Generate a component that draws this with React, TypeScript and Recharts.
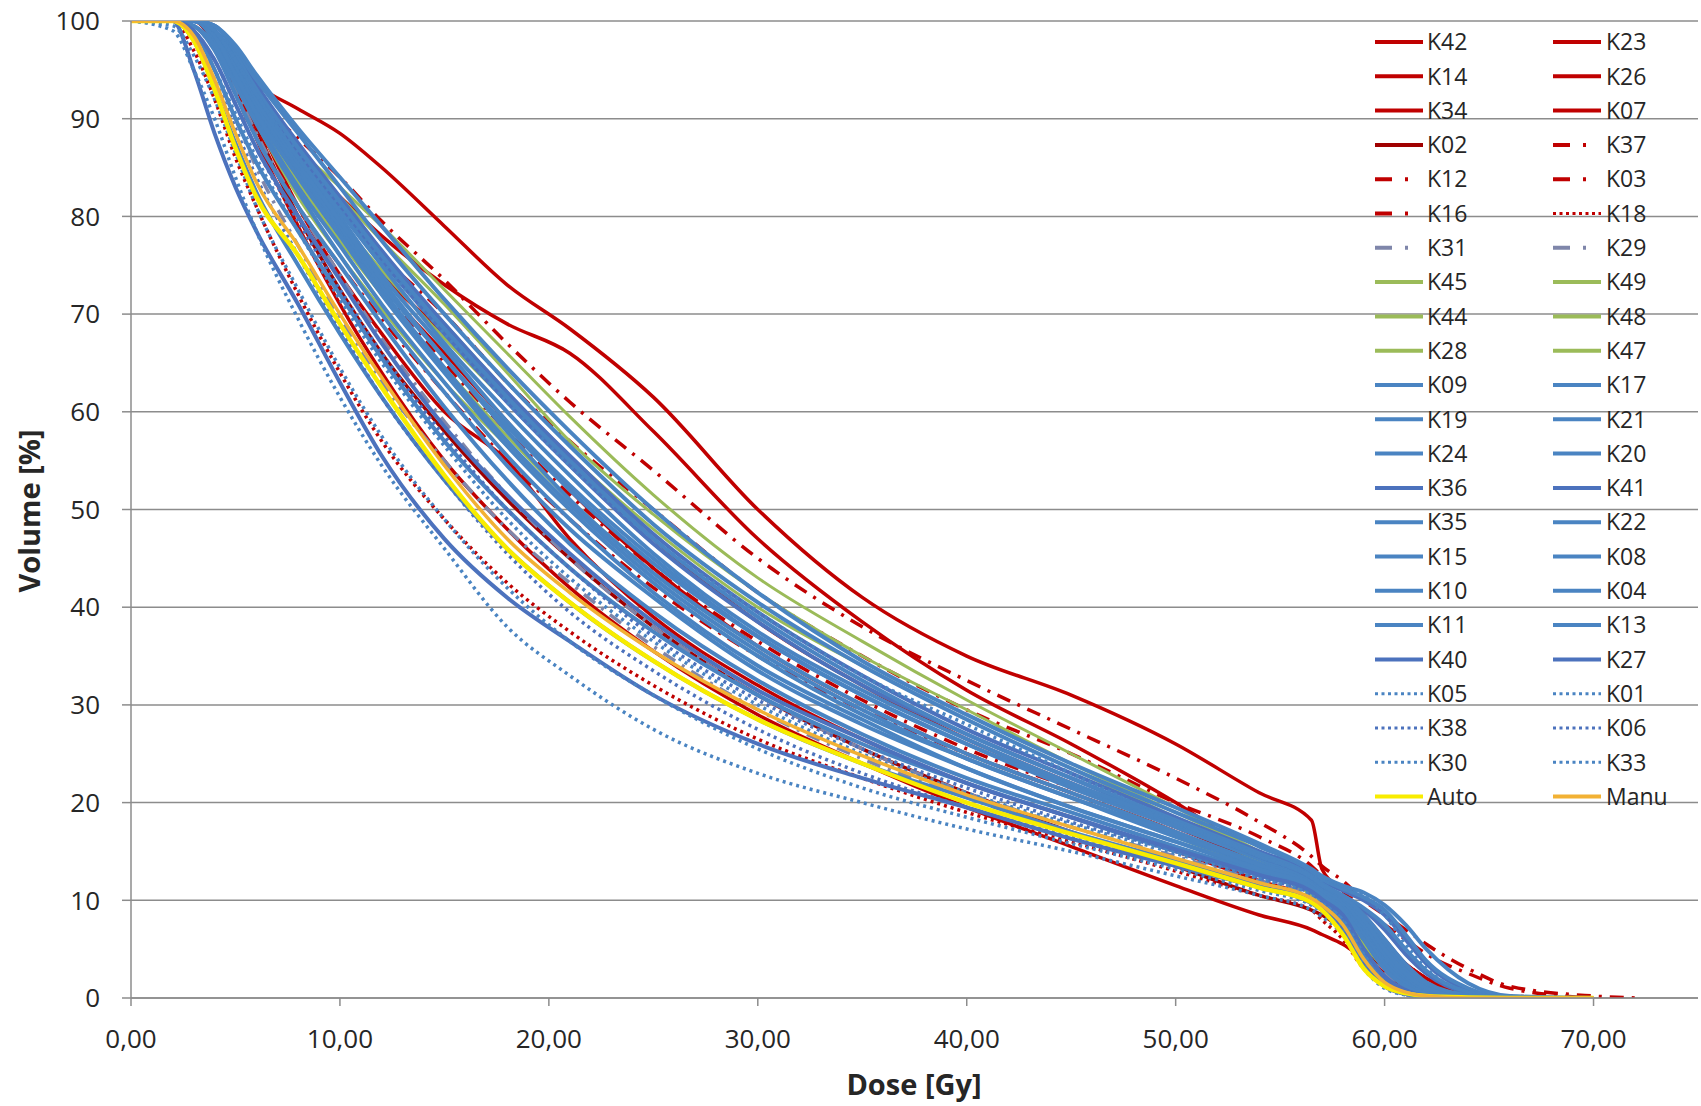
import React from 'react';
import { LineChart, Line, XAxis, YAxis, CartesianGrid } from 'recharts';

const FONT = "'Open Sans', sans-serif";

const DOSE = [0, 2, 3, 4, 5, 6, 8, 10, 12, 15, 18, 21, 25, 30, 35, 40, 45, 50, 54, 56.5, 57, 58, 59, 60, 61, 62, 64, 66, 70, 72];
const X_TICKS = [0, 10, 20, 30, 40, 50, 60, 70];
const Y_TICKS = [0, 10, 20, 30, 40, 50, 60, 70, 80, 90, 100];

type V = (number | null)[];
const K42: V = [100,100,100,99,95.5,93.5, 91,88.5,85,79,73,68.5, 61.5,50,41,35,31,26, 21,18.2,13.2,11,8.5,6, 3.5,2,0.5,0,null,null];
const K23: V = [100,100,100,99,96,93, 86,82,78,73,69,66, 58,47,38.5,31.5,26,20, 14.5,12,11,9.5,7.5,5, 3,1.5,0.3,0,null,null];
const K14: V = [100,100,100,98,94,90, 84,78.5,73,66,59,52, 44,36,30,25,21,17, 13,11,10,8,5.5,3, 1.5,0.7,0.1,0,null,null];
const K26: V = [100,100,100,98.5,95,90, 81,74,68,60,55,47, 39,32,26.5,22,18.5,15, 12,10,9,7,4.5,2.5, 1.2,0.5,0,null,null,null];
const K34: V = [100,100,100,98,93.5,88, 79,71,64,55,48,42, 35.5,29,24,19.5,15.5,11.5, 8.5,7,6.5,5.5,4,2.5, 1.3,0.6,0.1,0,null,null];
const K07: V = [100,100,100,99,96,92, 85,79,74,68,61.5,55, 47,38.5,32,26.5,22,17.5, 14,12,11,9.5,7.5,5.5, 3.5,2,0.5,0,null,null];
const K02: V = [100,100,100,98,94,89, 80,72.5,66,58,51,45, 38,31,25.5,21,17,13.5, 10.5,9,8.5,7,5,3, 1.5,0.6,0.1,0,null,null];
const K37: V = [100,100,100,98.5,95,92, 88,84,79.5,73.5,67,61, 54,45,38,32.5,27.5,22.5, 18,14.5,13.5,12,10,8.5, 7,5.5,3,1.2,0.2,0];
const K12: V = [100,100,100,98,94,90.5, 85.5,81,76,70,63,57, 50,41.5,35,29.5,25,20, 16.5,13.5,12.5,11,9,7.5, 6,4.5,2.5,1,0,null];
const K03: V = [100,100,100,98,93,89, 83,78,72.5,65,58,51.5, 44,36.5,30.5,25.5,21.5,17.5, 14,11.5,10.5,9,7,5, 3.5,2,0.5,0,null,null];
const K16: V = [100,100,100,97.5,92.5,88, 81,75,69.5,62,55,49, 42,35,29.5,25,21,17, 13.5,11,10,8.5,6.5,4.5, 3,1.8,0.6,0.2,0,null];
const K18: V = [100,100,97,92,86,81, 72,64,57,49,42.5,37.5, 32,26.5,22.5,19,16,13, 10.5,9,8,6,3,1.2, 0.4,0,null,null,null,null];
const K31: V = [100,100,99,95,90,85, 77,69.5,63,55,48,42.5, 36,29.5,24.5,20.5,17,14, 11.5,10,9.2,7.5,4.5,2, 0.8,0.3,0,null,null,null];
const K29: V = [100,100,99.5,97,93,88.5, 81,74,67.5,59,51.5,45, 38,31,25.5,21,17.5,14.5, 12,10.5,9.5,8,5,2.5, 1,0.4,0,null,null,null];
const K45: V = [100,100,100,99,96,92.5, 87,83,79,72.5,66,59.5, 51.5,43,36.5,30.5,25,19.5, 15,12.5,11.5,10,7.5,5, 3,1.5,0.3,0,null,null];
const K49: V = [100,100,100,99,95.5,92, 86,81,76,69,62,55.5, 48,40,34,28.5,23.5,18.5, 14.5,12,11,9.5,7,4.5, 2.5,1.2,0.2,0,null,null];
const K44: V = [100,100,100,98.5,94.5,91, 85,79.5,74.5,67.5,61,54.5, 46.5,38.5,32,27,22.5,18, 14,11.5,10.5,9,6.5,4, 2.2,1,0.2,0,null,null];
const K48: V = [100,100,100,98.5,94,90, 83.5,77.5,72,64.5,57.5,51, 43.5,36,30,25,21,17, 13.5,11,10,8.5,6,3.5, 1.8,0.8,0.1,0,null,null];
const K28: V = [100,100,100,98,93.5,89.5, 82,76,70.5,63,56.5,50, 42.5,35,29,24.5,20.5,16.5, 13,10.5,9.5,8,5.5,3, 1.5,0.6,0.1,0,null,null];
const K47: V = [100,100,100,99,95,91.5, 86.5,82,77.5,71,64,57, 49.5,41.5,35,29.5,24,19, 15,12.5,11.5,10,7.5,5, 2.8,1.4,0.3,0,null,null];
const K09: V = [100,100,98,93,87.5,82.5, 75,68,61.5,53,46,40.5, 34.5,28.5,24,20.5,17,14, 11.5,10,9.2,7.5,4,1.5, 0.5,0.1,0,null,null,null];
const K17: V = [100,100,99,95,90,85.5, 78.5,72,65.5,57,50,44, 37.5,31,26,22,18.5,15, 12.5,10.8,10,8,4.5,2, 0.7,0.2,0,null,null,null];
const K19: V = [100,100,99.5,97,92.5,88, 81,75,69,60.5,53,46.5, 39.5,32.5,27,22.5,19,15.5, 12.8,11,10.2,8.5,5,2.2, 0.8,0.3,0,null,null,null];
const K21: V = [100,100,100,98,94,90, 83,77,71,63,55.5,49, 41.5,34,28.5,23.5,19.5,16, 13,11.2,10.5,9,6,3, 1.2,0.4,0,null,null,null];
const K24: V = [100,100,100,98.5,95,91, 84.5,78.5,72.5,64.5,57,50.5, 43,35.5,29.5,24.5,20.5,16.5, 13.5,11.5,10.8,9.5,7,4, 1.8,0.7,0.1,0,null,null];
const K20: V = [100,100,100,99,96,92, 86,80,74,66.5,59,52.5, 45,37,31,26,21.5,17.5, 14.2,12,11.2,10,8,5.5, 3,1.2,0.2,0,null,null];
const K36: V = [100,100,100,99,96,92.5, 86.5,81,75.5,68,61,54.5, 46.5,38.5,32,27,22.5,18, 14.5,12.3,11.5,10.5,9,7, 4.5,2.5,0.5,0,null,null];
const K41: V = [100,100,100,99.5,97,93.5, 87.5,82,76.5,69,62,55.5, 47.5,39.5,33,27.5,23,18.5, 15,12.8,12,11,10,8.5, 6,3.5,0.8,0,null,null];
const K35: V = [100,100,100,99,95.5,91.5, 85,79,73,65.5,58,51, 43.5,36,30,25,21,17, 13.8,11.8,11,9.8,7.5,4.5, 2.2,0.8,0.1,0,null,null];
const K22: V = [100,100,100,98.5,94.5,90.5, 84,78,72,64,56.5,50, 42.5,35,29,24.5,20.5,16.8, 13.6,11.6,10.8,9.3,6.5,3.5, 1.5,0.5,0,null,null,null];
const K15: V = [100,100,100,99.5,97,94, 88.5,83,77.5,70,63,56.5, 48.5,40.5,34,28.5,23.5,19, 15.5,13,12.2,11.2,10.3,9, 6.5,3.8,1,0,null,null];
const K08: V = [100,100,100,99,96.5,93, 87,81.5,76,68.5,61.5,55, 47,39,32.5,27,22.5,18.2, 14.8,12.5,11.7,10.5,9.2,7.5, 5,2.8,0.6,0,null,null];
const K10: V = [100,100,99.5,97.5,93.5,89.5, 82.5,76,70,62,54.5,48, 41,33.5,28,23.5,19.5,16, 13.2,11.3,10.5,9,6,3, 1.2,0.4,0,null,null,null];
const K04: V = [100,100,100,99,96,92, 85.5,79.5,73.5,65.5,58.5,52, 44.5,37,31,26,21.8,17.8, 14.5,12.3,11.5,10.2,8,5, 2.5,1,0.1,0,null,null];
const K11: V = [100,100,100,99.5,97.5,94.5, 89,84,79,71.5,64.5,58, 50,41.5,34.5,29,24,19.5, 15.8,13.2,12.5,11.5,10.8,9.5, 7.5,5,1.5,0.2,0,null];
const K13: V = [100,100,100,99,96,92.5, 86,80.5,75,67,60,53.5, 45.5,37.5,31.5,26.5,22,18, 14.6,12.4,11.6,10.4,8.5,6, 3.5,1.6,0.3,0,null,null];
const K40: V = [100,100,95,88.5,83,78.5, 71,63,55.5,47,41,36.5, 31,26,22.5,19.5,16.3,13.5, 11.3,9.7,9,7.2,3.5,1.2, 0.4,0.1,0,null,null,null];
const K27: V = [100,100,99,96,91.5,87, 80,73.5,67,58.5,51.5,45.5, 38.5,31.5,26.5,22,18.5,15.2, 12.6,10.9,10.1,8.5,5,2.2, 0.8,0.2,0,null,null,null];
const K05: V = [100,99,95,90,84,78.5, 69.5,61.5,54.5,46,38,33, 27.5,23,20,17.3,15,12.5, 10.5,9,8.3,6.5,3,1, 0.3,0,null,null,null,null];
const K01: V = [100,99.5,96.5,92,86.5,81, 72.5,64.5,57.5,49,42,36.5, 31,25.5,21.5,18.5,15.8,13.2, 11,9.5,8.8,7,3.5,1.2, 0.4,0.1,0,null,null,null];
const K38: V = [100,100,98,94,89,84, 76,68.5,61.5,53,45.5,39.5, 33.5,27.5,23,19.5,16.5,13.8, 11.5,10,9.3,7.8,4.5,1.8, 0.6,0.2,0,null,null,null];
const K06: V = [100,100,99,96,91.5,87, 79.5,72.5,66,57.5,50,44, 37,30.5,25.5,21.5,18,15, 12.3,10.6,9.8,8.2,5,2.2, 0.8,0.3,0,null,null,null];
const K30: V = [100,100,100,99,96,92.5, 86.5,81,75.5,68,61,54.5, 47,39.5,33,28,23,18, 14.5,12.5,12,11.5,10.5,8.5, 5.5,3,0.6,0,null,null];
const K33: V = [100,100,98.5,95,90.5,86, 78.5,71.5,65,56.5,49,43, 36.5,30,25,21,17.8,14.8, 12.2,10.5,9.7,8,4.5,1.5, 0.4,0,null,null,null,null];
const AUTO: V = [100,100,98,93,87,82, 76,69,62.5,53.5,46,40.5, 34.5,28.5,24,20,16.8,13.8, 11.3,9.8,9,6.5,3,1.2, 0.5,0.2,0.05,0,0,null];
const MANU: V = [100,100,98.5,94,88.5,83.5, 77,70,63.5,54.5,47,41.5, 35.5,29.5,24.8,20.8,17.5,14.3, 11.8,10.2,9.5,7.5,4,1.6, 0.6,0.2,0,0,0,null];

const RED = '#C00000';
const DRED = '#A00000';
const GREEN = '#9BBB59';
const BLUE = '#4A84C2';
const BLUE2 = '#4C72BD';
const GREY = '#7F86AA';
const DASHDOT = '14 8 3 8';
const DOT = '3 4';

type S = { key: string; values: V; color: string; w: number; kind: 'solid' | 'dashdot' | 'dot' };

const SERIES: S[] = [
  { key: 'K42', values: K42, color: RED, w: 3.5, kind: 'solid' },
  { key: 'K23', values: K23, color: RED, w: 3.5, kind: 'solid' },
  { key: 'K14', values: K14, color: RED, w: 3.5, kind: 'solid' },
  { key: 'K26', values: K26, color: RED, w: 3.5, kind: 'solid' },
  { key: 'K34', values: K34, color: RED, w: 3.5, kind: 'solid' },
  { key: 'K07', values: K07, color: RED, w: 3.5, kind: 'solid' },
  { key: 'K02', values: K02, color: DRED, w: 3.5, kind: 'solid' },
  { key: 'K37', values: K37, color: RED, w: 3.5, kind: 'dashdot' },
  { key: 'K12', values: K12, color: RED, w: 3.5, kind: 'dashdot' },
  { key: 'K03', values: K03, color: RED, w: 3.5, kind: 'dashdot' },
  { key: 'K16', values: K16, color: RED, w: 3.5, kind: 'dashdot' },
  { key: 'K18', values: K18, color: RED, w: 3.5, kind: 'dot' },
  { key: 'K31', values: K31, color: GREY, w: 3.5, kind: 'dashdot' },
  { key: 'K29', values: K29, color: GREY, w: 3.5, kind: 'dashdot' },
  { key: 'K45', values: K45, color: GREEN, w: 3, kind: 'solid' },
  { key: 'K49', values: K49, color: GREEN, w: 3, kind: 'solid' },
  { key: 'K44', values: K44, color: GREEN, w: 3, kind: 'solid' },
  { key: 'K48', values: K48, color: GREEN, w: 3, kind: 'solid' },
  { key: 'K28', values: K28, color: GREEN, w: 3, kind: 'solid' },
  { key: 'K47', values: K47, color: GREEN, w: 3, kind: 'solid' },
  { key: 'K09', values: K09, color: BLUE, w: 4, kind: 'solid' },
  { key: 'K17', values: K17, color: BLUE, w: 4, kind: 'solid' },
  { key: 'K19', values: K19, color: BLUE, w: 4, kind: 'solid' },
  { key: 'K21', values: K21, color: BLUE, w: 4, kind: 'solid' },
  { key: 'K24', values: K24, color: BLUE, w: 4, kind: 'solid' },
  { key: 'K20', values: K20, color: BLUE, w: 4, kind: 'solid' },
  { key: 'K36', values: K36, color: BLUE2, w: 4, kind: 'solid' },
  { key: 'K41', values: K41, color: BLUE2, w: 4, kind: 'solid' },
  { key: 'K35', values: K35, color: BLUE, w: 4, kind: 'solid' },
  { key: 'K22', values: K22, color: BLUE, w: 4, kind: 'solid' },
  { key: 'K15', values: K15, color: BLUE, w: 4, kind: 'solid' },
  { key: 'K08', values: K08, color: BLUE, w: 4, kind: 'solid' },
  { key: 'K10', values: K10, color: BLUE, w: 4, kind: 'solid' },
  { key: 'K04', values: K04, color: BLUE, w: 4, kind: 'solid' },
  { key: 'K11', values: K11, color: BLUE, w: 4, kind: 'solid' },
  { key: 'K13', values: K13, color: BLUE, w: 4, kind: 'solid' },
  { key: 'K40', values: K40, color: BLUE2, w: 4, kind: 'solid' },
  { key: 'K27', values: K27, color: BLUE2, w: 4, kind: 'solid' },
  { key: 'K05', values: K05, color: BLUE, w: 3.5, kind: 'dot' },
  { key: 'K01', values: K01, color: BLUE, w: 3.5, kind: 'dot' },
  { key: 'K38', values: K38, color: BLUE2, w: 3.5, kind: 'dot' },
  { key: 'K06', values: K06, color: BLUE2, w: 3.5, kind: 'dot' },
  { key: 'K30', values: K30, color: BLUE, w: 3.5, kind: 'dot' },
  { key: 'K33', values: K33, color: BLUE, w: 3.5, kind: 'dot' },
  { key: 'Auto', values: AUTO, color: '#F8EC00', w: 4.5, kind: 'solid' },
  { key: 'Manu', values: MANU, color: '#F2B134', w: 3.5, kind: 'solid' },
];

const dashOf = (k: S['kind']) => (k === 'dashdot' ? DASHDOT : k === 'dot' ? DOT : undefined);

const data = DOSE.map((d, i) => {
  const row: Record<string, number | null> = { dose: d };
  SERIES.forEach((s) => {
    row[s.key] = s.values[i];
  });
  return row;
});

const fmtX = (v: number) => v.toFixed(2).replace('.', ',');

const TXT = '#262626';

function LegendOverlay() {
  const rowH = 34.3;
  const y0 = 42;
  const cols = [
    { lx1: 1375, lx2: 1423, tx: 1427 },
    { lx1: 1553, lx2: 1601, tx: 1606 },
  ];
  return (
    <g>
      {SERIES.map((s, i) => {
        const c = cols[i % 2];
        const y = y0 + Math.floor(i / 2) * rowH;
        const ld = s.kind === 'dashdot' ? '17 13 3 100' : s.kind === 'dot' ? '3 3.5' : undefined;
        return (
          <g key={s.key}>
            <line x1={c.lx1} x2={c.lx2} y1={y} y2={y} stroke={s.color} strokeWidth={s.kind === 'dot' ? 3 : 4} strokeDasharray={ld} />
            <text x={c.tx} y={y} dy="0.36em" fontFamily={FONT} fontSize={23} fill={TXT}>
              {s.key}
            </text>
          </g>
        );
      })}
    </g>
  );
}

export default function App() {
  return (
    <div style={{ position: 'absolute', left: 0, top: 0, width: 1701, height: 1106, background: '#fff' }}>
      <LineChart width={1701} height={1106} data={data} margin={{ top: 21, right: 3, bottom: 0, left: 0 }}>
        <CartesianGrid vertical={false} stroke="#8C8C8C" strokeWidth={1.5} />
        <XAxis
          dataKey="dose"
          type="number"
          domain={[0, 75]}
          ticks={X_TICKS}
          tickFormatter={fmtX}
          height={108}
          tickSize={8}
          tickMargin={24}
          axisLine={{ stroke: '#8C8C8C', strokeWidth: 1.5 }}
          tickLine={{ stroke: '#8C8C8C', strokeWidth: 1.5 }}
          tick={{ fill: TXT, fontSize: 26, fontFamily: FONT }}
          allowDataOverflow
        />
        <YAxis
          type="number"
          domain={[0, 100]}
          ticks={Y_TICKS}
          width={131}
          tickSize={9}
          tickMargin={22}
          axisLine={{ stroke: '#8C8C8C', strokeWidth: 1.5 }}
          tickLine={{ stroke: '#8C8C8C', strokeWidth: 1.5 }}
          tick={{ fill: TXT, fontSize: 26, fontFamily: FONT }}
          allowDataOverflow
        />
        {SERIES.map((s) => (
          <Line
            key={s.key}
            dataKey={s.key}
            type="monotone"
            stroke={s.color}
            strokeWidth={s.w}
            strokeDasharray={dashOf(s.kind)}
            dot={false}
            activeDot={false}
            isAnimationActive={false}
            connectNulls={false}
          />
        ))}
      </LineChart>
      <svg width={1701} height={1106} style={{ position: 'absolute', left: 0, top: 0, pointerEvents: 'none' }}>
        <LegendOverlay />
        <text x={914} y={1095} textAnchor="middle" fontFamily={FONT} fontWeight="bold" fontSize={29} fill={TXT}>
          Dose [Gy]
        </text>
        <text
          x={40}
          y={511}
          textAnchor="middle"
          fontFamily={FONT}
          fontWeight="bold"
          fontSize={29}
          fill={TXT}
          transform="rotate(-90 40 511)"
        >
          Volume [%]
        </text>
      </svg>
    </div>
  );
}
